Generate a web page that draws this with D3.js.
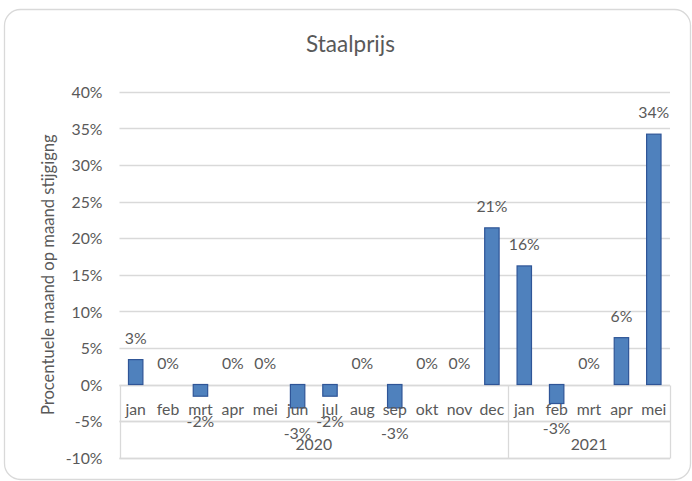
<!DOCTYPE html>
<html>
<head>
<meta charset="utf-8">
<script src="https://cdn.jsdelivr.net/npm/d3@7"></script>
<style>
  html, body { margin: 0; padding: 0; background: #fff; }
  svg { display: block; }
  text { font-family: Lato, "Open Sans", sans-serif; fill: #595959; }
</style>
</head>
<body>
<svg id="chart" width="692" height="481"></svg>
<script>
// Maandelijkse procentuele verandering van de staalprijs
const months = ["jan","feb","mrt","apr","mei","jun","jul","aug","sep","okt","nov","dec","jan","feb","mrt","apr","mei"];
const years = ["2020","2020","2020","2020","2020","2020","2020","2020","2020","2020","2020","2020","2021","2021","2021","2021","2021"];
const values = [0.034, 0, -0.016, 0, 0, -0.032, -0.016, 0, -0.032, 0, 0, 0.214, 0.162, -0.026, 0, 0.064, 0.342];
const yTicks = [-0.10, -0.05, 0, 0.05, 0.10, 0.15, 0.20, 0.25, 0.30, 0.35, 0.40];

const title = "Staalprijs";
const yTitle = "Procentuele maand op maand stijgigng";

const svg = d3.select("#chart");
const plot = { left: 119.5, right: 670, top: 91.7, bottom: 457.7 };

// Percentages with a plain hyphen as minus sign
const locale = d3.formatLocale({ decimal: ",", thousands: ".", grouping: [3], currency: ["€", ""], minus: "-" });
const fmt = locale.format(".0%");

// Chart frame
svg.append("rect")
  .attr("x", 4.5).attr("y", 9.5)
  .attr("width", 686).attr("height", 470)
  .attr("rx", 16).attr("ry", 16)
  .attr("fill", "#fff").attr("stroke", "#d9d9d9").attr("stroke-width", 1.3);

const idx = months.map((m, i) => i);
const x = d3.scaleBand().domain(idx).range([plot.left, plot.right]).paddingInner(0.555).paddingOuter(0.2775);
const y = d3.scaleLinear().domain([-0.10, 0.40]).range([plot.bottom, plot.top]);

// Gridlines
svg.append("g").selectAll("line").data(yTicks).join("line")
  .attr("x1", plot.left).attr("x2", plot.right)
  .attr("y1", d => Math.round(y(d)) + 0.5).attr("y2", d => Math.round(y(d)) + 0.5)
  .attr("stroke", "#d9d9d9").attr("stroke-width", 1.3);

// Y axis tick labels
const yAxis = d3.axisLeft(y).tickValues(yTicks).tickFormat(fmt).tickSize(0).tickPadding(0);
const gy = svg.append("g").attr("transform", `translate(${plot.left - 17},0)`).call(yAxis);
gy.select(".domain").remove();
gy.selectAll("text").attr("font-size", 15.8).attr("fill", "#595959")
  .attr("font-family", "Lato, 'Open Sans', sans-serif").attr("dy", "0.36em");

// Multi-level category axis frame
const zeroY = Math.round(y(0)) + 0.5;
const sepY = Math.round(y(-0.05)) + 0.5;
const botY = Math.round(y(-0.10)) + 0.5;
const axisG = svg.append("g").attr("stroke", "#d9d9d9").attr("stroke-width", 1.3);
axisG.append("line").attr("x1", plot.left).attr("x2", plot.right).attr("y1", zeroY).attr("y2", zeroY);
axisG.append("line").attr("x1", plot.left).attr("x2", plot.right).attr("y1", sepY).attr("y2", sepY);
axisG.append("line").attr("x1", plot.left).attr("x2", plot.right).attr("y1", botY).attr("y2", botY);

// Year groups
const yearGroups = d3.groups(idx, i => years[i]).map(([yr, is]) => ({
  year: yr,
  x0: x(is[0]) - x.step() * x.paddingInner() / 2,
  x1: x(is[is.length - 1]) + x.bandwidth() + x.step() * x.paddingInner() / 2
}));
yearGroups[0].x0 = plot.left;
yearGroups[yearGroups.length - 1].x1 = plot.right;
const bounds = [plot.left, ...yearGroups.map(g => g.x1)];
axisG.selectAll(".vline").data(bounds).join("line")
  .attr("x1", d => Math.round(d) + 0.5).attr("x2", d => Math.round(d) + 0.5)
  .attr("y1", zeroY).attr("y2", botY);

// Bars
svg.append("g").selectAll("rect").data(idx).join("rect")
  .attr("x", i => x(i))
  .attr("width", x.bandwidth())
  .attr("y", i => y(Math.max(0, values[i])))
  .attr("height", i => Math.abs(y(values[i]) - y(0)))
  .attr("fill", "#4f81bd")
  .attr("stroke", "#2f5597")
  .attr("stroke-width", 1.2);

// Month labels
svg.append("g").selectAll("text").data(idx).join("text")
  .attr("x", i => x(i) + x.bandwidth() / 2)
  .attr("y", 409).attr("dy", "0.36em")
  .attr("text-anchor", "middle").attr("font-size", 15.8)
  .text(i => months[i]);

// Year labels
svg.append("g").selectAll("text").data(yearGroups).join("text")
  .attr("x", d => (d.x0 + d.x1) / 2)
  .attr("y", 444).attr("dy", "0.36em")
  .attr("text-anchor", "middle").attr("font-size", 15.8)
  .text(d => d.year);

// Data labels
svg.append("g").selectAll("text").data(idx).join("text")
  .attr("x", i => x(i) + x.bandwidth() / 2)
  .attr("y", i => values[i] < 0 ? y(values[i]) + 25 : y(values[i]) - 21.5)
  .attr("dy", "0.36em")
  .attr("text-anchor", "middle").attr("font-size", 15.8)
  .text(i => fmt(values[i]));

// Title
svg.append("text").attr("x", 350.5).attr("y", 44).attr("dy", "0.36em")
  .attr("text-anchor", "middle").attr("font-size", 22.5)
  .text(title);

// Y axis title
svg.append("text")
  .attr("transform", `translate(48,${(plot.top + plot.bottom) / 2}) rotate(-90)`)
  .attr("dy", "0.36em")
  .attr("text-anchor", "middle").attr("font-size", 16.6)
  .text(yTitle);
</script>
</body>
</html>
